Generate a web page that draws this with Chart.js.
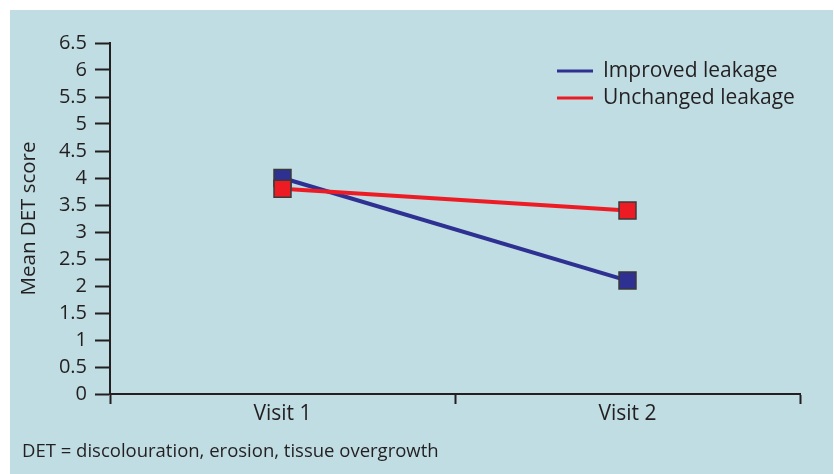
<!DOCTYPE html>
<html>
<head>
<meta charset="utf-8">
<script src="https://cdn.jsdelivr.net/npm/chart.js@4"></script>
<style>
  html, body { margin: 0; padding: 0; background: #fff; }
  #wrap { width: 834px; height: 474px; position: relative; }
</style>
</head>
<body>
<div id="wrap"><canvas id="myChart" width="834" height="474"></canvas></div>
<script>
// data
var visits = ["Visit 1", "Visit 2"];
var improvedLeakage = [4.0, 2.1];
var unchangedLeakage = [3.8, 3.4];
var yMin = 0, yMax = 6.5, yStep = 0.5;
var footnote = "DET = discolouration, erosion, tissue overgrowth";

var ink = "#231f20";
var font = "'Open Sans', 'Noto Sans', sans-serif";

// panel background + footnote + legend
var panelPlugin = {
    id: "panel",
    beforeDraw: function (chart) {
        var c = chart.ctx;
        c.save();
        c.fillStyle = "#fff";
        c.fillRect(0, 0, chart.width, chart.height);
        c.fillStyle = "#bfdde2";
        c.fillRect(10, 10, 823, 464);
        c.restore();
    },
    afterDraw: function (chart) {
        var c = chart.ctx;
        c.save();
        c.fillStyle = ink;
        c.font = "18.5px " + font;
        c.textBaseline = "middle";
        c.fillText(footnote, 22, 452);

        // legend, in the order of the figure
        var items = [chart.data.datasets[1], chart.data.datasets[0]];
        c.font = "21px " + font;
        items.forEach(function (ds, i) {
            var y = 71 + i * 27;
            c.strokeStyle = ds.borderColor;
            c.lineWidth = 3;
            c.beginPath();
            c.moveTo(557, y);
            c.lineTo(593, y);
            c.stroke();
            c.fillStyle = ink;
            c.fillText(ds.label, 603, y);
        });
        c.restore();
    }
};

var ctx = document.getElementById("myChart").getContext("2d");
var myChart = new Chart(ctx, {
    type: "line",
    data: {
        labels: visits,
        // red first so it is drawn on top
        datasets: [{
            label: "Unchanged leakage",
            data: unchangedLeakage,
            borderColor: "#ed1c24",
            backgroundColor: "#ed1c24",
            borderWidth: 4,
            pointStyle: "rect",
            pointRadius: 12,
            pointBorderColor: "#3a3a3a",
            pointBorderWidth: 1.5,
            pointBackgroundColor: "#ed1c24"
        }, {
            label: "Improved leakage",
            data: improvedLeakage,
            borderColor: "#2e3192",
            backgroundColor: "#2e3192",
            borderWidth: 4,
            pointStyle: "rect",
            pointRadius: 12,
            pointBorderColor: "#3a3a3a",
            pointBorderWidth: 1.5,
            pointBackgroundColor: "#2e3192"
        }]
    },
    options: {
        responsive: false,
        animation: false,
        layout: { padding: { top: 43, left: 10, right: 34, bottom: 40 } },
        plugins: {
            legend: { display: false },
            tooltip: { enabled: false }
        },
        scales: {
            x: {
                offset: true,
                grid: { offset: true, drawOnChartArea: false, tickLength: 10, tickWidth: 2, color: ink },
                border: { color: ink, width: 2 },
                ticks: { color: ink, font: { family: font, size: 21 }, padding: -3 },
                afterFit: function (s) { s.height = 40; }
            },
            y: {
                min: yMin,
                max: yMax,
                grid: { drawOnChartArea: false, tickLength: 15, tickWidth: 2, color: ink },
                border: { color: ink, width: 2 },
                ticks: {
                    stepSize: yStep, color: ink, font: { family: font, size: 20 }, padding: 8,
                    callback: function (v) { return String(v); }
                },
                title: { display: true, text: "Mean DET score", color: ink, font: { family: font, size: 20.5 }, padding: { top: 7, bottom: 0 } },
                afterFit: function (s) { s.width = 100; }
            }
        }
    },
    plugins: [panelPlugin]
});
</script>
</body>
</html>
